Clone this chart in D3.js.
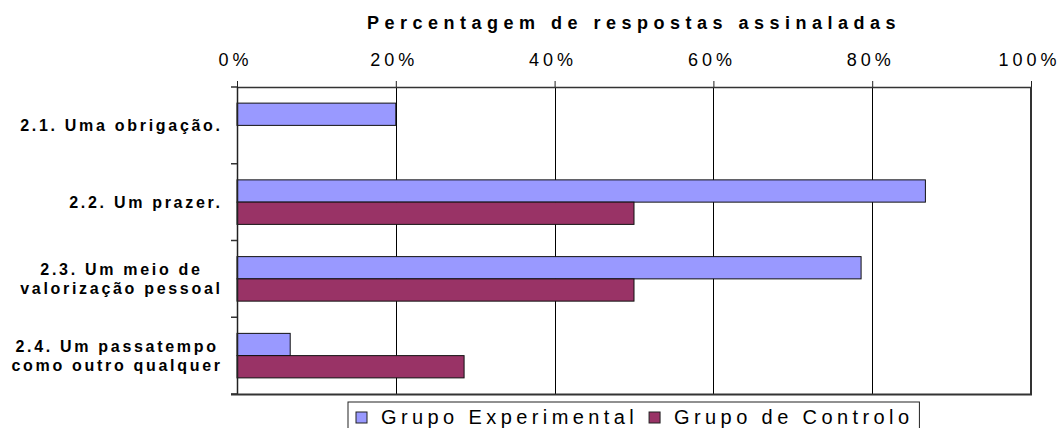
<!DOCTYPE html>
<html>
<head>
<meta charset="utf-8">
<script src="https://cdn.jsdelivr.net/npm/d3@7"></script>
<style>
  body { margin: 0; background: #fff; }
  svg { display: block; font-family: "Liberation Sans", Arial, sans-serif; }
</style>
</head>
<body>
<div id="chart"></div>
<script>
// Categories (label lines as shown on the chart)
var categories = ["2.1", "2.2", "2.3", "2.4"];
var categoryLines = [
  ["2.1. Uma obrigação."],
  ["2.2. Um prazer."],
  ["2.3. Um meio de", "valorização pessoal"],
  ["2.4. Um passatempo", "como outro qualquer"]
];

// Series
var seriesNames = ["Grupo Experimental", "Grupo de Controlo"];
var seriesColors = ["#9999ff", "#993366"];
var experimental = [0.20, 0.867, 0.786, 0.067];
var controlo = [0, 0.50, 0.50, 0.286];

// Axis ticks
var tickValues = [0, 0.2, 0.4, 0.6, 0.8, 1];
var titleText = "Percentagem de respostas assinaladas";

// Set the dimensions and margins of the graph
var margin = { top: 87, right: 30, bottom: 34, left: 237 },
  width = 1061 - margin.left - margin.right,
  height = 428 - margin.top - margin.bottom;

var svg = d3
  .select("#chart")
  .append("svg")
  .attr("width", width + margin.left + margin.right)
  .attr("height", height + margin.top + margin.bottom)
  .append("g")
  .attr("transform", "translate(" + margin.left + "," + margin.top + ")");

var x = d3.scaleLinear().domain([0, 1]).range([0, width]);

var y = d3
  .scaleBand()
  .domain(categories)
  .range([0, height])
  .paddingInner(0.42)
  .paddingOuter(0.21);

var ySub = d3.scaleBand().domain(seriesNames).range([0, y.bandwidth()]);

// Title
svg
  .append("text")
  .attr("x", width / 2)
  .attr("y", -58)
  .attr("text-anchor", "middle")
  .style("font-size", "18px")
  .style("font-weight", "bold")
  .style("letter-spacing", "5.5px")
  .text(titleText);

// Vertical gridlines
svg
  .append("g")
  .selectAll("line")
  .data(tickValues.filter((d) => d > 0 && d < 1))
  .enter()
  .append("line")
  .attr("x1", (d) => Math.round(x(d)) + 0.5)
  .attr("x2", (d) => Math.round(x(d)) + 0.5)
  .attr("y1", 0)
  .attr("y2", height)
  .attr("stroke", "#000")
  .attr("stroke-width", 1);

// Bars
var rows = categories.map((c, i) => ({
  cat: c,
  values: [
    { s: seriesNames[0], v: experimental[i], color: seriesColors[0] },
    { s: seriesNames[1], v: controlo[i], color: seriesColors[1] }
  ]
}));

svg
  .append("g")
  .selectAll("g")
  .data(rows)
  .enter()
  .append("g")
  .attr("transform", (d) => "translate(0," + y(d.cat) + ")")
  .selectAll("rect")
  .data((d) => d.values)
  .enter()
  .append("rect")
  .attr("x", x(0))
  .attr("y", (d) => ySub(d.s))
  .attr("width", (d) => x(d.v) - x(0))
  .attr("height", ySub.bandwidth())
  .attr("fill", (d) => d.color)
  .attr("stroke", "#111")
  .attr("stroke-width", 1);

// Top axis
var xAxis = svg
  .append("g")
  .call(
    d3
      .axisTop(x)
      .tickValues(tickValues)
      .tickFormat(d3.format(".0%"))
      .tickSize(6)
      .tickSizeOuter(0)
      .tickPadding(15)
  );
xAxis.select(".domain").attr("stroke", "#333").attr("stroke-width", 1.5);
xAxis.selectAll(".tick line").attr("stroke", "#222");
xAxis
  .selectAll(".tick text")
  .attr("fill", "#000")
  .attr("dx", -2)
  .style("font-size", "18px")
  .style("font-family", "'Liberation Sans', Arial, sans-serif")
  .style("letter-spacing", "4px");

// Left axis line with ticks at the category boundaries
var boundaries = [0].concat(
  categories.map((c) => y(c) + y.bandwidth() + (y.step() * y.paddingInner()) / 2)
);
svg
  .append("line")
  .attr("x1", 0.5)
  .attr("x2", 0.5)
  .attr("y1", 0)
  .attr("y2", height)
  .attr("stroke", "#222")
  .attr("stroke-width", 1.5);
svg
  .append("g")
  .selectAll("line")
  .data(boundaries)
  .enter()
  .append("line")
  .attr("x1", -6)
  .attr("x2", 0)
  .attr("y1", (d) => d)
  .attr("y2", (d) => d)
  .attr("stroke", "#333")
  .attr("stroke-width", 1.5);

// Right and bottom border
svg
  .append("line")
  .attr("x1", width)
  .attr("x2", width)
  .attr("y1", 0)
  .attr("y2", height + 1)
  .attr("stroke", "#333")
  .attr("stroke-width", 2);
svg
  .append("line")
  .attr("x1", -6)
  .attr("x2", width + 1)
  .attr("y1", height + 0.5)
  .attr("y2", height + 0.5)
  .attr("stroke", "#333")
  .attr("stroke-width", 2);

// Category labels: block right aligned, lines centred on each other
var labelRight = -17 + 2.7;
var lineHeight = 19;
var labels = svg.append("g").style("font-size", "16px").style("font-weight", "bold").style("letter-spacing", "2.7px");
categories.forEach((c, i) => {
  var lines = categoryLines[i];
  var cy = y(c) + y.bandwidth() / 2;
  var texts = lines.map((t, j) =>
    labels
      .append("text")
      .attr("text-anchor", "middle")
      .attr("y", cy + (j - (lines.length - 1) / 2) * lineHeight + 5.8)
      .text(t)
  );
  var maxW = d3.max(texts, (t) => t.node().getComputedTextLength());
  texts.forEach((t) => t.attr("x", labelRight - maxW / 2));
});

// Legend
var legend = svg.append("g").attr("transform", "translate(0," + (402 - margin.top) + ")");
var box = legend.append("rect").attr("y", 0).attr("height", 34).attr("fill", "#fff").attr("stroke", "#222").attr("stroke-width", 1);
var cursor = 8;
seriesNames.forEach((name, i) => {
  legend
    .append("rect")
    .attr("x", cursor)
    .attr("y", 10)
    .attr("width", 11)
    .attr("height", 11)
    .attr("fill", seriesColors[i])
    .attr("stroke", "#222")
    .attr("stroke-width", 1);
  var t = legend
    .append("text")
    .attr("x", cursor + 25)
    .attr("y", 22)
    .style("font-size", "20px")
    .style("letter-spacing", "4.4px")
    .text(name);
  cursor += 25 + t.node().getComputedTextLength() + 11;
});
var legendW = cursor - 5;
box.attr("width", legendW);
legend.attr("transform", "translate(" + Math.round(width / 2 - legendW / 2) + "," + (402 - margin.top) + ")");
</script>
</body>
</html>
